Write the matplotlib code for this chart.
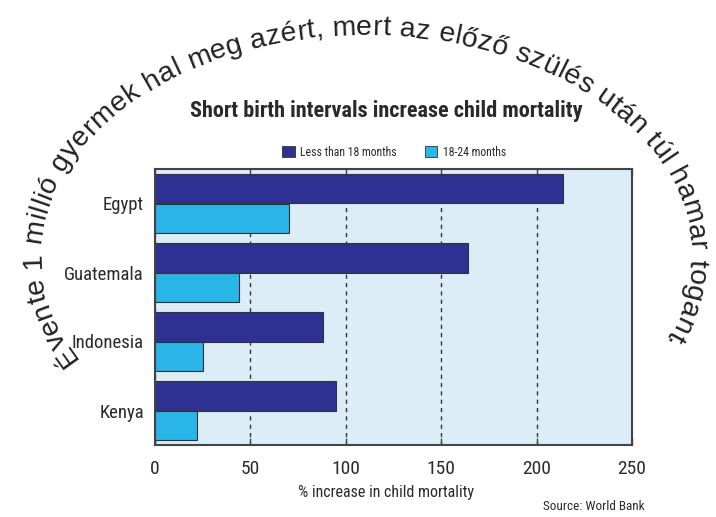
import numpy as np
import matplotlib.pyplot as plt
from matplotlib.font_manager import FontProperties, findfont, get_font
from matplotlib.patches import Patch

# data
countries = ['Egypt', 'Guatemala', 'Indonesia', 'Kenya']
under_18 = [214, 164, 88, 95]
from_18_24 = [70, 44, 25, 22]
series_names = ['Less than 18 months', '18-24 months']
xticks = [0, 50, 100, 150, 200, 250]

title = 'Short birth intervals increase child mortality'
xlabel = '% increase in child mortality'
source = 'Source: World Bank'
arc_text = 'Évente 1 millió gyermek hal meg azért, mert az előző szülés után túl hamar togant.'

narrow = ['Roboto Condensed', 'DejaVu Sans']
arial = ['Liberation Sans', 'Arimo', 'Roboto', 'DejaVu Sans']
dark = '#2e3192'
light = '#29b5e8'
txt = '#2a2a2a'

W, H = 716, 517
fig = plt.figure(figsize=(W / 100, H / 100), dpi=100)

ax = fig.add_axes([155 / W, 1 - 445 / H, 477 / W, 276 / H])
ax.set_facecolor('#dcedf8')
pos = np.arange(len(countries))
h = 0.43
ax.barh(pos - h / 2, under_18, height=h, color=dark, edgecolor='#333333', linewidth=0.8)
ax.barh(pos + h / 2, from_18_24, height=h, color=light, edgecolor='#333333', linewidth=0.8)
ax.set_xlim(0, 250)
ax.set_ylim(3.5, -0.5)
ax.set_axisbelow(True)
ax.grid(axis='x', color='#333333', linestyle=(0, (3, 3)), linewidth=1)
ax.set_xticks(xticks)
ax.set_xticklabels([str(v) for v in xticks], fontfamily=narrow, fontsize=14, color=txt)
ax.set_yticks(pos)
ax.set_yticklabels(countries, fontfamily=narrow, fontsize=13.5, color=txt)
ax.tick_params(axis='x', direction='in', length=5, width=1, color='#444444', top=True, pad=11)
ax.tick_params(axis='y', length=0, pad=8)
for s in ax.spines.values():
    s.set_color('#444444')
    s.set_linewidth(1.5)

handles = [Patch(facecolor=dark, edgecolor='#333333', linewidth=0.6),
           Patch(facecolor=light, edgecolor='#333333', linewidth=0.6)]
fig.legend(handles, series_names, loc='center', bbox_to_anchor=(394 / W, 1 - 152 / H),
           ncol=2, frameon=False, prop=FontProperties(family=narrow, size=8.5),
           handlelength=1.05, handleheight=1.05, handletextpad=0.45, columnspacing=2.4,
           labelcolor=txt)

fig.text(386 / W, 1 - 111 / H, title, ha='center', va='center', fontsize=16,
         fontweight='bold', family=narrow, color=txt)
fig.text(386 / W, 1 - 493 / H, xlabel, ha='center', va='center', fontsize=11.5,
         family=narrow, color=txt)
fig.text(645 / W, 1 - 507 / H, source, ha='right', va='center', fontsize=9.5,
         family=narrow, color=txt)

# curved heading along an ellipse (pixel coordinates, y down)
over = fig.add_axes([0, 0, 1, 1])
over.set_xlim(0, W)
over.set_ylim(H, 0)
over.axis('off')
over.patch.set_visible(False)

cx, cy, a, b = 365, 255, 325, 220
t0, t1 = np.radians(208), np.radians(-23.6)
t = np.linspace(t0, t1, 4000)
px = cx + a * np.cos(t)
py = cy - b * np.sin(t)
cum = np.concatenate([[0], np.cumsum(np.hypot(np.diff(px), np.diff(py)))])

arc_size = 20.5
ft = get_font(findfont(FontProperties(family=arial)))
ft.set_size(100, 72)
adv = np.array([ft.load_char(ord(c)).linearHoriAdvance / 65536 / 100 for c in arc_text])
adv_px = adv * arc_size * 100 / 72
track = (cum[-1] - adv_px.sum()) / (len(arc_text) - 1)

start = 0.0
for c, w in zip(arc_text, adv_px):
    sc = start + w / 2
    tc = np.interp(sc, cum, t)
    x = cx + a * np.cos(tc)
    y = cy - b * np.sin(tc)
    ang = np.degrees(np.arctan2(-b * np.cos(tc), a * np.sin(tc)))
    over.text(x, y, c, ha='center', va='baseline', rotation=ang, rotation_mode='anchor',
              fontsize=arc_size, family=arial, color='#222222')
    start += w + track

fig.savefig('out.png', dpi=100)
